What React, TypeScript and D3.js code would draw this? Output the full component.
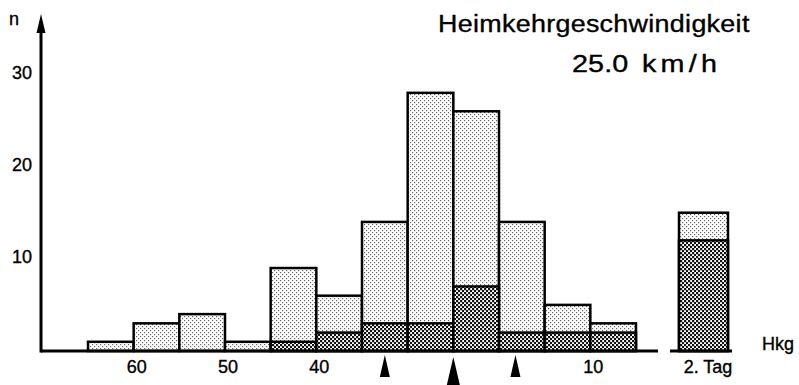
import { useMemo } from "react";
import * as d3 from "d3";

// bins are 5 km/h wide, labelled by their lower edge (Hkg)
const BIN_LO = [60, 55, 50, 45, 40, 35, 30, 25, 20, 15, 10, 5];
const TOTAL = [1, 3, 4, 1, 9, 6, 14, 28, 26, 14, 5, 3];
const DARK = [0, 0, 0, 0, 1, 2, 3, 3, 7, 2, 2, 2];
const TAG2_TOTAL = 15;
const TAG2_DARK = 12;
const X_LABELS = [60, 50, 40, 10];
const Y_TICKS = [10, 20, 30];
const MARKERS = [32.5, 25.0, 18.2];

const WIDTH = 799;
const HEIGHT = 385;
const FONT = "'Liberation Sans', Arial, Helvetica, sans-serif";

export default function App() {
  // layout: x runs from high speeds on the left to low speeds on the right
  const xScale = useMemo(() => d3.scaleLinear().domain([65, 5]).range([88, 636]), []);
  const yScale = useMemo(() => d3.scaleLinear().domain([0, 30]).range([351, 74.4]), []);

  const base = yScale(0);
  const axisX = 41;
  const axisEnd = xScale(5) + 22;
  const binW = Math.abs(xScale(0) - xScale(5));

  // separate "2. Tag" bar
  const tagX0 = 679;
  const tagW = 49;

  const textStyle = { stroke: "#000", strokeWidth: 0.35 };

  return (
    <svg
      width={WIDTH}
      height={HEIGHT}
      style={{ position: "absolute", left: 0, top: 0, background: "#fff" }}
      fontFamily={FONT}
    >
      <defs>
        <pattern id="light" width={4} height={4} patternUnits="userSpaceOnUse">
          <rect width={4} height={4} fill="#fff" />
          <rect x={0} y={0} width={1.2} height={1.2} fill="#666" />
          <rect x={2} y={2} width={1.2} height={1.2} fill="#666" />
        </pattern>
        <pattern id="dark" width={4} height={4} patternUnits="userSpaceOnUse">
          <rect width={4} height={4} fill="#fff" />
          <rect x={0} y={0} width={2.2} height={2.2} fill="#111" />
          <rect x={2} y={2} width={2.2} height={2.2} fill="#111" />
        </pattern>
      </defs>

      {/* bars: total counts */}
      {BIN_LO.map((lo, i) => (
        <rect
          key={"t" + lo}
          x={xScale(lo + 5)}
          y={yScale(TOTAL[i])}
          width={binW}
          height={base - yScale(TOTAL[i])}
          fill="url(#light)"
          stroke="#000"
          strokeWidth={2.5}
        />
      ))}
      {/* bars: dark share */}
      {BIN_LO.map((lo, i) =>
        DARK[i] > 0 ? (
          <rect
            key={"d" + lo}
            x={xScale(lo + 5)}
            y={yScale(DARK[i])}
            width={binW}
            height={base - yScale(DARK[i])}
            fill="url(#dark)"
            stroke="#000"
            strokeWidth={2.5}
          />
        ) : null
      )}

      {/* 2. Tag */}
      <rect
        x={tagX0}
        y={yScale(TAG2_TOTAL)}
        width={tagW}
        height={base - yScale(TAG2_TOTAL)}
        fill="url(#light)"
        stroke="#000"
        strokeWidth={2.5}
      />
      <rect
        x={tagX0}
        y={yScale(TAG2_DARK)}
        width={tagW}
        height={base - yScale(TAG2_DARK)}
        fill="url(#dark)"
        stroke="#000"
        strokeWidth={2.5}
      />
      <line x1={670} x2={732} y1={base} y2={base} stroke="#000" strokeWidth={3} />

      {/* axes */}
      <line x1={axisX} x2={axisEnd} y1={base} y2={base} stroke="#000" strokeWidth={3} />
      <line x1={axisX} x2={axisX} y1={base + 1.5} y2={28} stroke="#000" strokeWidth={3} />
      <path d={`M${axisX},14 L${axisX + 4.5},33 L${axisX - 4.5},33 Z`} fill="#000" />

      {Y_TICKS.map((t) => (
        <text
          key={t}
          x={32}
          y={yScale(t) - 2}
          dy="0.35em"
          textAnchor="end"
          fontSize={18}
          style={textStyle}
        >
          {t}
        </text>
      ))}
      <text x={9} y={25} fontSize={18} style={textStyle}>
        n
      </text>

      {X_LABELS.map((v) => (
        <text
          key={v}
          x={xScale(v) + 3}
          y={373}
          textAnchor="middle"
          fontSize={18}
          style={textStyle}
        >
          {v}
        </text>
      ))}

      {/* mean and quartile markers */}
      {MARKERS.map((m, i) => {
        const cx = xScale(m);
        const w = i === 1 ? 6.5 : 5;
        const top = i === 1 ? 357 : 355;
        const bot = i === 1 ? 385 : 377;
        return <path key={m} d={`M${cx},${top} L${cx + w},${bot} L${cx - w},${bot} Z`} fill="#000" />;
      })}

      <text x={708} y={373} textAnchor="middle" fontSize={18} style={textStyle}>
        2. Tag
      </text>
      <text x={762} y={350} fontSize={18} style={textStyle}>
        Hkg
      </text>

      {/* title block, glyphs a bit wider than the installed fonts */}
      <text
        transform="translate(438,32) scale(1.12,1)"
        fontSize={24}
        textLength={278}
        lengthAdjust="spacing"
        style={textStyle}
      >
        Heimkehrgeschwindigkeit
      </text>
      <text
        transform="translate(572,72) scale(1.25,1)"
        fontSize={23}
        textLength={45}
        lengthAdjust="spacing"
        style={textStyle}
      >
        25.0
      </text>
      <text
        transform="translate(642,72) scale(1.25,1)"
        fontSize={23}
        textLength={60}
        lengthAdjust="spacing"
        style={textStyle}
      >
        km/h
      </text>
    </svg>
  );
}
